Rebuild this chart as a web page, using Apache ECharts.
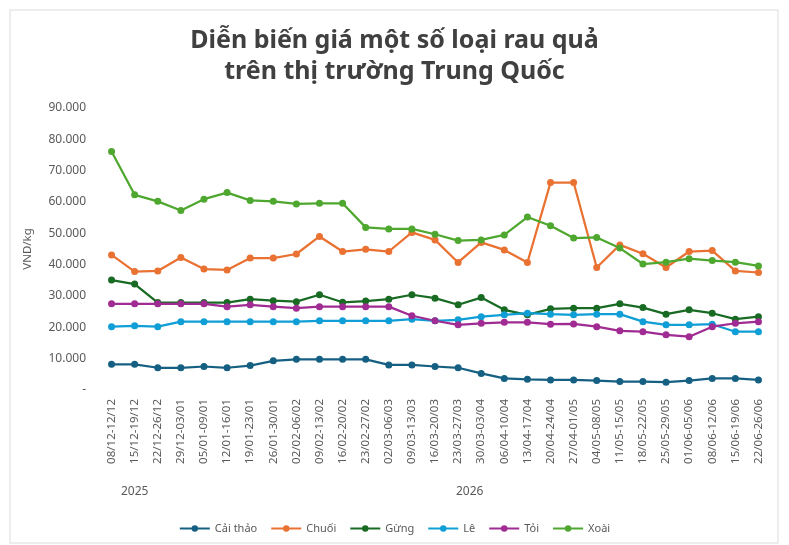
<!DOCTYPE html>
<html lang="vi">
<head>
    <meta charset="UTF-8">
    <title>Diễn biến giá rau quả</title>
    <script src="https://cdnjs.cloudflare.com/ajax/libs/echarts/6.0.0/echarts.min.js"></script>
    <style>
        html, body { margin: 0; padding: 0; background: #fff; }
        #chart { width: 789px; height: 545px; }
    </style>
</head>
<body>
    <div id="chart"></div>
    <script>
        // tuần (thứ 2 - thứ 6)
        const weeks = [
            '08/12-12/12', '15/12-19/12', '22/12-26/12', '29/12-03/01', '05/01-09/01',
            '12/01-16/01', '19/01-23/01', '26/01-30/01', '02/02-06/02', '09/02-13/02',
            '16/02-20/02', '23/02-27/02', '02/03-06/03', '09/03-13/03', '16/03-20/03',
            '23/03-27/03', '30/03-03/04', '06/04-10/04', '13/04-17/04', '20/04-24/04',
            '27/04-01/05', '04/05-08/05', '11/05-15/05', '18/05-22/05', '25/05-29/05',
            '01/06-05/06', '08/06-12/06', '15/06-19/06', '22/06-26/06'
        ];
        // nhóm năm: [nhãn, chỉ số đầu, chỉ số cuối]
        const years = [['2025', 0, 2], ['2026', 3, 28]];

        // giá, VND/kg
        const caiThao = [8200, 8200, 7100, 7100, 7500, 7100, 7800, 9300, 9800, 9800,
            9800, 9800, 8000, 8000, 7500, 7100, 5300, 3700, 3400, 3200,
            3200, 3000, 2700, 2700, 2500, 3000, 3700, 3700, 3200];
        const chuoi = [43100, 37800, 38000, 42300, 38600, 38300, 42100, 42100, 43400, 49000,
            44200, 44900, 44200, 50300, 47900, 40700, 47100, 44700, 40700, 66200,
            66200, 39100, 46300, 43500, 39100, 44200, 44500, 38000, 37500];
        const gung = [35100, 33800, 27900, 27900, 27900, 27900, 29000, 28500, 28200, 30400,
            28000, 28400, 29000, 30400, 29300, 27200, 29500, 25600, 24000, 25900,
            26100, 26100, 27500, 26300, 24200, 25600, 24500, 22600, 23400];
        const le = [20200, 20500, 20200, 21800, 21800, 21800, 21800, 21800, 21800, 22100,
            22100, 22100, 22100, 22600, 22100, 22400, 23400, 24000, 24500, 24200,
            24000, 24200, 24200, 21800, 20800, 20800, 21000, 18600, 18600];
        const toi = [27500, 27500, 27500, 27500, 27500, 26600, 27200, 26600, 26100, 26600,
            26600, 26600, 26600, 23700, 22100, 20800, 21300, 21600, 21600, 21000,
            21100, 20200, 18900, 18600, 17600, 17000, 20200, 21300, 21800];
        const xoai = [76100, 62300, 60200, 57300, 60900, 63000, 60500, 60200, 59400, 59600,
            59600, 51900, 51400, 51400, 49700, 47700, 47900, 49500, 55200, 52400,
            48500, 48700, 45300, 40200, 40800, 41900, 41300, 40800, 39600];

        const seriesList = [
            { name: 'Cải thảo', data: caiThao, color: '#156082' },
            { name: 'Chuối', data: chuoi, color: '#E97132' },
            { name: 'Gừng', data: gung, color: '#196B24' },
            { name: 'Lê', data: le, color: '#0F9ED5' },
            { name: 'Tỏi', data: toi, color: '#A02B93' },
            { name: 'Xoài', data: xoai, color: '#4EA72E' }
        ];

        const fmt = v => v === 0 ? '-' : String(v).replace(/\B(?=(\d{3})+(?!\d))/g, '.');

        const chart = echarts.init(document.getElementById('chart'));
        const textColor = '#595959';
        const font = 'Noto Sans';

        chart.setOption({
            animation: false,
            textStyle: { fontFamily: font },
            title: {
                text: 'Diễn biến giá một số loại rau quả\ntrên thị trường Trung Quốc',
                left: 'center',
                top: 20,
                textStyle: {
                    color: '#404040',
                    fontSize: 25,
                    fontWeight: 'bold',
                    lineHeight: 31,
                    fontFamily: font
                }
            },
            grid: { left: 100, right: 19, top: 108, bottom: 155 },
            legend: {
                bottom: 6,
                left: 'center',
                itemWidth: 30,
                itemHeight: 8,
                itemGap: 13,
                textStyle: { color: textColor, fontSize: 11 }
            },
            xAxis: {
                type: 'category',
                data: weeks,
                axisLine: { show: false },
                axisTick: { show: false },
                axisLabel: {
                    rotate: 90,
                    interval: 0,
                    margin: 9,
                    color: textColor,
                    fontSize: 11.5
                }
            },
            yAxis: {
                type: 'value',
                min: 0,
                max: 90000,
                interval: 10000,
                name: 'VND/kg',
                nameLocation: 'middle',
                nameGap: 66,
                nameTextStyle: { color: textColor, fontSize: 11.5 },
                splitLine: { show: false },
                axisLabel: { color: textColor, fontSize: 12, margin: 14, formatter: fmt }
            },
            series: seriesList.map(s => ({
                name: s.name,
                type: 'line',
                data: s.data,
                symbol: 'circle',
                symbolSize: 7,
                color: s.color,
                lineStyle: { width: 2.25 }
            }))
        });

        // khung ngoài + nhãn năm
        const graphics = [{
            type: 'rect',
            shape: { x: 10, y: 10, width: 768, height: 533 },
            style: { fill: null, stroke: '#e8e8e8', lineWidth: 1.5 },
            silent: true
        }];
        years.forEach(([label, a, b]) => {
            const x0 = chart.convertToPixel({ xAxisIndex: 0 }, a);
            const x1 = chart.convertToPixel({ xAxisIndex: 0 }, b);
            graphics.push({
                type: 'text',
                x: (x0 + x1) / 2,
                y: 492,
                style: {
                    text: label,
                    fill: textColor,
                    font: '12px "Noto Sans"',
                    align: 'center',
                    verticalAlign: 'middle'
                }
            });
        });
        chart.setOption({ graphic: graphics });
    </script>
</body>
</html>
